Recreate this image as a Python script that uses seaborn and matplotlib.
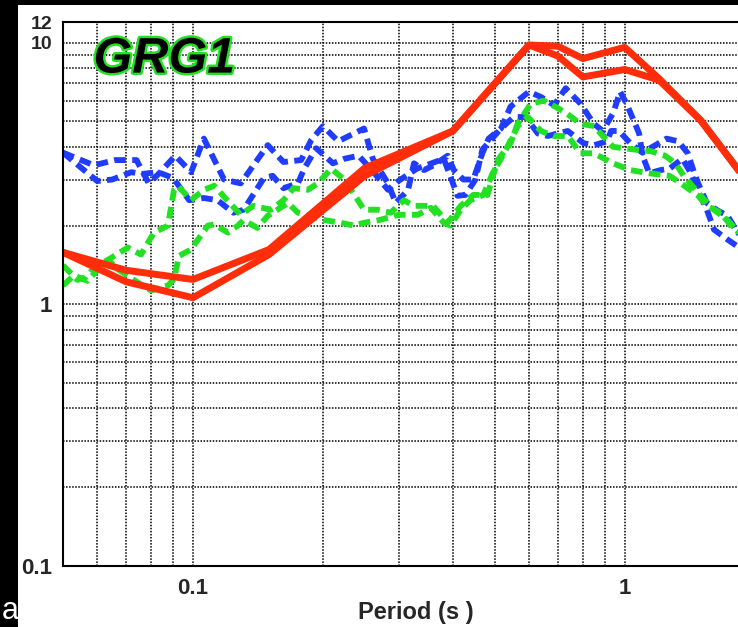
import numpy as np
import pandas as pd
import seaborn as sns
import matplotlib.pyplot as plt
import matplotlib.patheffects as pe
from matplotlib.patches import Rectangle
from matplotlib.ticker import LogLocator, NullFormatter

# spectral values (period in s, amplitude)
red_period = [0.05, 0.07, 0.1, 0.15, 0.25, 0.4, 0.6, 0.7, 0.8, 1.0, 1.2, 1.5, 2.0]
red_a = [1.58, 1.35, 1.245, 1.62, 3.32, 4.6, 9.8, 9.7, 8.7, 9.6, 7.3, 5.05, 2.7]
red_b = [1.58, 1.22, 1.06, 1.55, 3.1, 4.6, 9.8, 8.9, 7.4, 7.9, 7.2, 5.05, 2.7]

blue_a_period = [0.050, 0.059, 0.066, 0.074, 0.079, 0.084, 0.091, 0.099, 0.106, 0.118,
                 0.129, 0.149, 0.162, 0.178, 0.188, 0.200, 0.217, 0.249, 0.261, 0.283,
                 0.295, 0.315, 0.325, 0.343, 0.361, 0.389, 0.402, 0.423, 0.446, 0.468,
                 0.484, 0.517, 0.544, 0.600, 0.640, 0.686, 0.730, 0.790, 0.848, 0.890,
                 0.941, 0.976, 1.010, 1.080, 1.100, 1.140, 1.210, 1.270, 1.360, 1.420,
                 1.480, 1.550, 1.610, 1.730, 1.840]
blue_a = [3.8, 3.4, 3.56, 3.56, 2.9, 3.2, 3.7, 3.2, 4.3, 3.0,
          2.9, 4.06, 3.5, 3.56, 4.25, 4.8, 4.2, 4.7, 3.6, 2.9,
          2.44, 2.74, 3.46, 3.26, 3.4, 3.7, 3.26, 3.0, 3.0, 3.78,
          4.3, 4.7, 5.7, 6.5, 6.2, 5.77, 6.7, 5.85, 4.9, 4.6,
          5.4, 6.5, 5.85, 4.5, 3.7, 3.17, 3.26, 3.3, 3.6, 3.2,
          2.7, 2.3, 1.93, 1.77, 1.65]

blue_b_period = [0.050, 0.060, 0.065, 0.072, 0.076, 0.083, 0.090, 0.098, 0.106, 0.114,
                 0.124, 0.131, 0.146, 0.153, 0.162, 0.175, 0.181, 0.193, 0.211, 0.224,
                 0.242, 0.262, 0.283, 0.298, 0.330, 0.381, 0.410, 0.428, 0.451, 0.468,
                 0.489, 0.517, 0.553, 0.590, 0.629, 0.664, 0.700, 0.738, 0.803, 0.850,
                 0.910, 0.930, 0.970, 1.030, 1.100, 1.160, 1.250, 1.330, 1.400, 1.450,
                 1.480, 1.550, 1.630, 1.730, 1.840]
blue_b = [3.8, 2.96, 3.0, 3.2, 3.15, 3.2, 3.04, 2.5, 2.55, 2.5,
          2.24, 2.3, 3.04, 3.1, 2.78, 2.9, 3.3, 3.95, 3.46, 3.6,
          3.7, 3.2, 2.74, 2.95, 3.3, 3.6, 2.6, 2.62, 3.0, 3.9,
          4.24, 4.7, 5.2, 5.2, 4.5, 4.4, 4.5, 4.6, 4.13, 4.06,
          4.2, 4.6, 4.6, 4.13, 3.8, 4.0, 4.3, 4.2, 3.78, 3.17,
          2.9, 2.44, 2.3, 2.18, 1.85]

green_a_period = [0.050, 0.054, 0.0565, 0.059, 0.0636, 0.0707, 0.0758, 0.0812, 0.0875, 0.0904,
                  0.0923, 0.0989, 0.106, 0.112, 0.120, 0.129, 0.138, 0.1515, 0.162, 0.171,
                  0.1845, 0.1946, 0.209, 0.224, 0.241, 0.249, 0.268, 0.287, 0.308, 0.325,
                  0.360, 0.389, 0.417, 0.446, 0.481, 0.508, 0.544, 0.565, 0.606, 0.650,
                  0.690, 0.730, 0.790, 0.850, 0.890, 0.940, 1.060, 1.150, 1.240, 1.310,
                  1.370, 1.500, 1.610, 1.730, 1.840]
green_a = [1.41, 1.24, 1.27, 1.38, 1.48, 1.65, 1.55, 1.88, 2.0, 2.74,
           2.84, 2.5, 2.74, 2.84, 2.5, 2.2, 2.38, 2.3, 2.5, 2.78,
           2.74, 2.9, 3.3, 3.0, 2.5, 2.3, 2.3, 2.24, 2.5, 2.38,
           2.38, 2.05, 2.38, 2.62, 2.62, 3.56, 4.13, 4.9, 5.85, 6.0,
           5.7, 5.4, 4.9, 4.8, 4.4, 4.0, 3.9, 3.85, 3.7, 3.46,
           3.1, 2.6, 2.3, 2.1, 1.88]

green_b_period = [0.050, 0.053, 0.057, 0.0603, 0.0636, 0.0671, 0.0746, 0.080, 0.0875, 0.0904,
                  0.0928, 0.0989, 0.1083, 0.1119, 0.1205, 0.1271, 0.131, 0.141, 0.149, 0.166,
                  0.175, 0.1845, 0.2011, 0.220, 0.236, 0.249, 0.270, 0.300, 0.332, 0.3555,
                  0.381, 0.395, 0.417, 0.439, 0.4706, 0.4945, 0.5256, 0.5652, 0.5966, 0.6395,
                  0.6856, 0.738, 0.790, 0.848, 0.940, 1.030, 1.140, 1.270, 1.350, 1.480,
                  1.550, 1.670, 1.760, 1.840]
green_b = [1.18, 1.29, 1.23, 1.36, 1.48, 1.36, 1.21, 1.13, 1.18, 1.25,
           1.53, 1.62, 2.0, 2.02, 1.88, 2.0, 2.1, 1.96, 2.18, 2.44,
           2.24, 2.18, 2.1, 2.05, 2.0, 2.05, 2.1, 2.2, 2.2, 2.34,
           2.05, 2.0, 2.3, 2.5, 2.62, 3.17, 3.78, 4.8, 5.2, 4.6,
           4.4, 4.4, 3.78, 3.78, 3.46, 3.26, 3.17, 3.1, 2.9, 2.6,
           2.38, 2.24, 2.0, 1.88]

x_ticks = [0.1, 1]
x_tick_labels = ["0.1", "1"]
y_ticks = [0.1, 1, 10, 12]
y_tick_labels = ["0.1", "1", "10", "12"]

sns.set_style("white")
plt.rcParams['font.family'] = ['Liberation Sans', 'DejaVu Sans']

fig = plt.figure(figsize=(7.38, 6.27), dpi=100)
fig.patch.set_facecolor("white")
# black frame strips of the original screenshot
fig.patches.append(Rectangle((0, 0), 18 / 738, 1, transform=fig.transFigure,
                             facecolor="black", edgecolor="none", zorder=-5))
fig.patches.append(Rectangle((0, 1 - 5 / 627), 1, 5 / 627, transform=fig.transFigure,
                             facecolor="black", edgecolor="none", zorder=-5))
fig.text(0.002, 0.012, "a", color="white", fontsize=22, ha="left", va="baseline")

ax = fig.add_axes([63 / 738, 61 / 627, 675 / 738, 544 / 627])
ax.set_xscale("log")
ax.set_yscale("log")

dash = (0, (2.0, 1.1))
series = [
    (blue_a_period, blue_a, "#1f3cff", 4.2, dash),
    (blue_b_period, blue_b, "#1f3cff", 4.2, dash),
    (green_a_period, green_a, "#22e022", 4.2, dash),
    (green_b_period, green_b, "#22e022", 4.2, dash),
    (red_period, red_a, "#ff2d0a", 5.0, "-"),
    (red_period, red_b, "#ff2d0a", 5.0, "-"),
]
for per, val, col, lw, ls in series:
    df = pd.DataFrame({"period": per, "sa": val})
    sns.lineplot(data=df, x="period", y="sa", sort=False, estimator=None,
                 color=col, linewidth=lw, linestyle=ls, ax=ax)

ax.set_xlim(0.05, 1.83)
ax.set_ylim(0.1, 12)

ax.set_xticks(x_ticks)
ax.set_xticklabels(x_tick_labels, fontweight="bold", fontsize=16)
ax.set_yticks(y_ticks)
ax.set_yticklabels(y_tick_labels, fontweight="bold", fontsize=16)
for lbl in ax.get_yticklabels():
    if lbl.get_text() in ("10", "12"):
        lbl.set_fontsize(14)
ax.xaxis.set_minor_locator(LogLocator(base=10, subs=np.arange(2, 10)))
ax.yaxis.set_minor_locator(LogLocator(base=10, subs=np.arange(2, 10)))
ax.xaxis.set_minor_formatter(NullFormatter())
ax.yaxis.set_minor_formatter(NullFormatter())
ax.tick_params(axis="both", which="both", length=0)
ax.tick_params(axis="x", pad=9)
ax.tick_params(axis="y", pad=8)

ax.grid(True, which="both", color="black", linestyle=(0, (1, 1)), linewidth=1.1)
ax.set_axisbelow(True)

for side in ["left", "bottom", "top"]:
    ax.spines[side].set_color("black")
    ax.spines[side].set_linewidth(1.5)
ax.spines["right"].set_visible(False)

ax.set_xlabel("Period (s )", fontsize=17, fontweight="bold")
ax.set_ylabel("")
ax.xaxis.set_label_coords(0.523, -0.065)
ax.xaxis.label.set_va("top")

ax.text(0.045, 0.907, "GRG1", transform=ax.transAxes, fontsize=36,
        fontweight="bold", fontstyle="italic", color="black", ha="left", va="baseline",
        path_effects=[pe.withStroke(linewidth=3.5, foreground="#22e022")])

fig.savefig("out.png", dpi=100)
